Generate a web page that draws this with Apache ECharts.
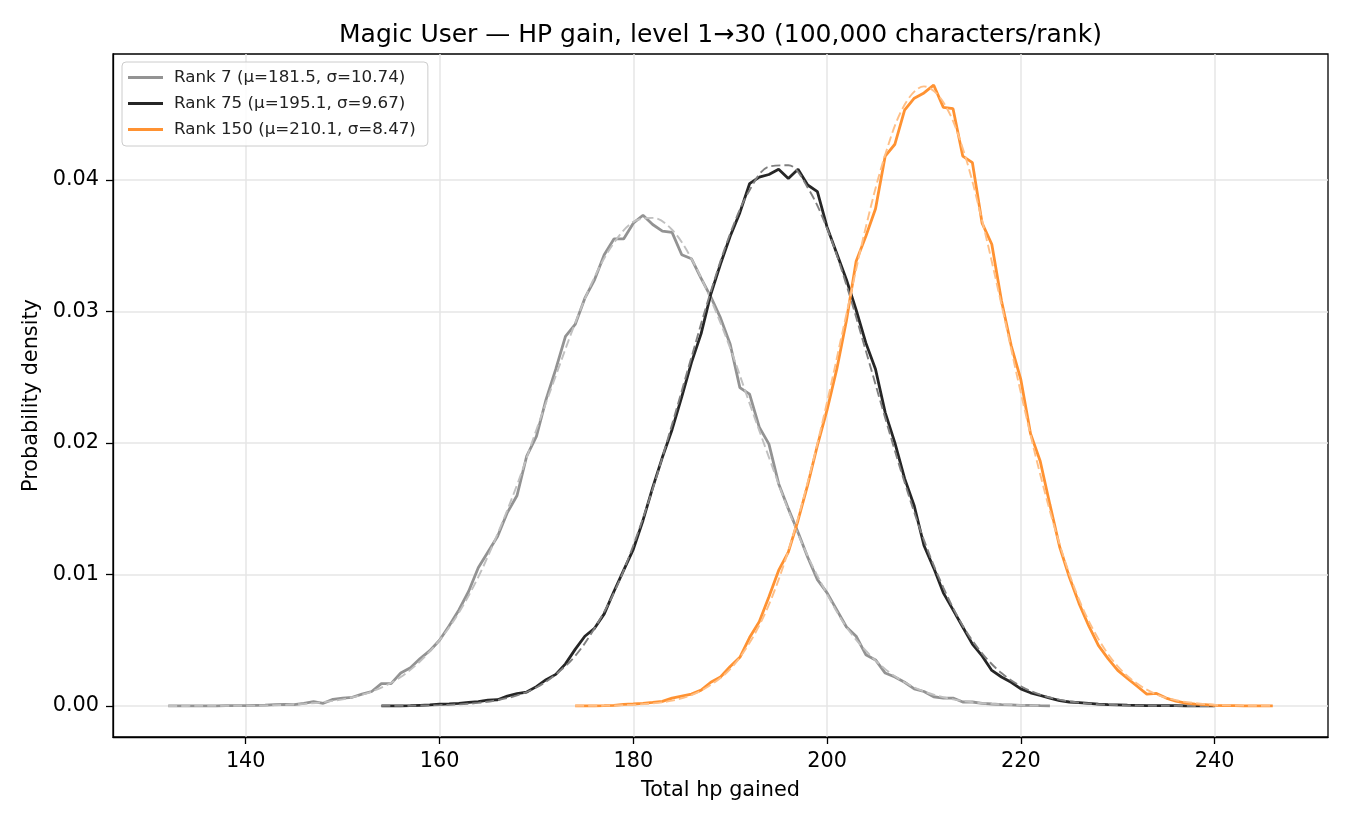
<!DOCTYPE html>
<html><head><meta charset="utf-8">
<script src="https://cdn.jsdelivr.net/npm/echarts@6/dist/echarts.min.js"></script>
<style>html,body{margin:0;padding:0;background:#fff}#chart{width:1350px;height:825px}</style>
</head><body><div id="chart"></div>
<script>
// ---- data ----
const seriesNames = ['Rank 7 (μ=181.5, σ=10.74)', 'Rank 75 (μ=195.1, σ=9.67)', 'Rank 150 (μ=210.1, σ=8.47)'];

// empirical densities, one value per integer hp total
const rank7Start = 132;
const rank7Values = [0, 0, 0, 0.00001, 0.00001, 0.00001, 0.00002, 0.00002, 0.00003, 0.00005,
  0.00006, 0.0001, 0.00012, 0.0001, 0.0002, 0.00033, 0.0002, 0.0005, 0.0006, 0.00066,
  0.0009, 0.0011, 0.0017, 0.0017, 0.0025, 0.0029, 0.0036, 0.0042, 0.005, 0.0061,
  0.0073, 0.0087, 0.0105, 0.0117, 0.0129, 0.0147, 0.016, 0.019, 0.0205, 0.0233,
  0.0256, 0.0281, 0.029, 0.031, 0.0324, 0.0343, 0.0355, 0.0355, 0.0367, 0.0373,
  0.0366, 0.0361, 0.036, 0.0343, 0.034, 0.0325, 0.0311, 0.0295, 0.0275, 0.0242,
  0.0237, 0.0212, 0.0199, 0.0169, 0.015, 0.0132, 0.0113, 0.0096, 0.0086, 0.0073,
  0.006, 0.0053, 0.0039, 0.0035, 0.0025, 0.0022, 0.0018, 0.0013, 0.0011, 0.0007,
  0.0006, 0.0006, 0.0003, 0.0003, 0.0002, 0.00015, 0.0001, 0.00008, 0.00005, 0.00004,
  0.00002, 0.00001];

const rank75Start = 154;
const rank75Values = [0, 0.00001, 0.00001, 0.00002, 0.00005, 0.00008, 0.00013, 0.00016, 0.0002, 0.00027,
  0.00033, 0.00045, 0.00047, 0.00075, 0.00093, 0.00106, 0.00147, 0.002, 0.0024, 0.0032,
  0.0043, 0.0053, 0.0059, 0.007, 0.0087, 0.0103, 0.0119, 0.0141, 0.0166, 0.0189,
  0.021, 0.0235, 0.0261, 0.0283, 0.0313, 0.0336, 0.0357, 0.0375, 0.0397, 0.0402,
  0.0404, 0.0408, 0.0401, 0.0408, 0.0396, 0.0391, 0.0364, 0.0344, 0.0324, 0.0301,
  0.0276, 0.0256, 0.0223, 0.02, 0.0173, 0.0152, 0.0122, 0.0105, 0.0086, 0.0073,
  0.006, 0.0047, 0.0038, 0.0027, 0.0022, 0.0018, 0.0013, 0.001, 0.0008, 0.0006,
  0.0004, 0.0003, 0.00025, 0.0002, 0.00014, 0.0001, 0.00008, 0.00006, 0.00005, 0.00003,
  0.00003, 0.00002, 0.00002, 0.00001, 0.00001, 0, 0];

const rank150Start = 174;
const rank150Values = [0, 0.00001, 0.00001, 0.00002, 0.00004, 0.00012, 0.00015, 0.0002, 0.00027, 0.00035,
  0.0006, 0.00075, 0.0009, 0.0012, 0.0018, 0.0022, 0.003, 0.0037, 0.0052, 0.0064,
  0.0083, 0.0103, 0.0117, 0.0141, 0.0168, 0.0198, 0.0225, 0.0256, 0.0293, 0.0338,
  0.0357, 0.0378, 0.0418, 0.0427, 0.0453, 0.0462, 0.0466, 0.0472, 0.0455, 0.0454,
  0.0418, 0.0413, 0.0367, 0.0351, 0.0308, 0.0274, 0.0248, 0.0207, 0.0186, 0.0153,
  0.0121, 0.0098, 0.0078, 0.0061, 0.0046, 0.0036, 0.0027, 0.0021, 0.0015, 0.0009,
  0.00095, 0.0006, 0.00037, 0.00022, 0.00014, 0.0001, 0.00005, 0.00003, 0.00002, 0.00001,
  0.00001, 0, 0];

// fitted normal curves (dashed), read every 2 hp
const fitStep = 2;
const rank7Fit = [0, 0.000002, 0.000005, 0.00001, 0.00002, 0.00004, 0.00008, 0.00016, 0.00029, 0.0005,
  0.00085, 0.0014, 0.0022, 0.0034, 0.005, 0.0071, 0.0098, 0.0131, 0.0168, 0.021,
  0.0251, 0.0291, 0.0326, 0.0352, 0.0368, 0.0371, 0.0362, 0.034, 0.0309, 0.0272,
  0.023, 0.0189, 0.0149, 0.0114, 0.0085, 0.006, 0.0042, 0.0028, 0.0018, 0.0011,
  0.00066, 0.00038, 0.00021, 0.00012, 0.00006, 0.00003];
const rank75Fit = [0.000005, 0.00001, 0.00003, 0.00006, 0.00012, 0.00023, 0.00045, 0.0008, 0.0014, 0.0024,
  0.0038, 0.0059, 0.0086, 0.0122, 0.0165, 0.0214, 0.0265, 0.0315, 0.0359, 0.0392,
  0.041, 0.0411, 0.0394, 0.0363, 0.032, 0.027, 0.0219, 0.017, 0.0126, 0.009,
  0.0061, 0.004, 0.0025, 0.0015, 0.00086, 0.00048, 0.00025, 0.00013, 0.00006, 0.00003,
  0.00001, 0.000005, 0.000002, 0.000001];
const rank150Fit = [0.000005, 0.000014, 0.000036, 0.00009, 0.00019, 0.0004, 0.00082, 0.0016, 0.0028, 0.0048,
  0.0077, 0.0118, 0.017, 0.0231, 0.0298, 0.0364, 0.0419, 0.0457, 0.0471, 0.0459,
  0.0424, 0.0369, 0.0305, 0.0238, 0.0176, 0.0123, 0.0081, 0.0051, 0.003, 0.0017,
  0.00088, 0.00044, 0.00021, 0.00009, 0.00004, 0.000016, 0.000006];

// ---- build chart ----
function pairs(start, step, vals) { return vals.map((v, i) => [start + i * step, v]); }

const FONT = 'DejaVu Sans';
const solidColors = ['#939393', '#262626', '#ff9232'];
const dashColors = ['#c0c0c0', '#808080', '#ffbf86'];
const solids = [[rank7Start, rank7Values], [rank75Start, rank75Values], [rank150Start, rank150Values]];
const fits = [[rank7Start, rank7Fit], [rank75Start, rank75Fit], [rank150Start, rank150Fit]];

const series = [];
for (let k = 0; k < 3; k++) {
  series.push({
    name: seriesNames[k], type: 'line', symbol: 'none', showSymbol: false,
    data: pairs(solids[k][0], 1, solids[k][1]),
    lineStyle: { color: solidColors[k], width: 2.8 }, itemStyle: { color: solidColors[k] },
    z: 2 + 2 * k
  });
  series.push({
    name: seriesNames[k] + ' fit', type: 'line', symbol: 'none', showSymbol: false, smooth: 0.35,
    data: pairs(fits[k][0], fitStep, fits[k][1]),
    lineStyle: { color: dashColors[k], width: 1.9, type: [9, 4] }, itemStyle: { color: dashColors[k] },
    z: 3 + 2 * k, silent: true
  });
}

const chart = echarts.init(document.getElementById('chart'), null, { renderer: 'canvas' });
chart.setOption({
  animation: false,
  backgroundColor: '#fff',
  textStyle: { fontFamily: FONT },
  title: {
    text: 'Magic User — HP gain, level 1→30 (100,000 characters/rank)',
    left: 339, top: 23, padding: 0,
    textStyle: { fontFamily: FONT, fontSize: 25, fontWeight: 'normal', color: '#000' }
  },
  legend: {
    data: seriesNames, orient: 'vertical', left: 122, top: 62,
    icon: 'rect', padding: [7, 12, 8, 6], itemGap: 9, itemWidth: 35, itemHeight: 3,
    borderColor: '#cccccc', borderWidth: 1, borderRadius: 4, backgroundColor: 'rgba(255,255,255,0.85)',
    textStyle: { fontFamily: FONT, fontSize: 16.7, color: '#222', padding: [0, 0, 0, 6] }
  },
  grid: { left: 113, right: 22, top: 54, bottom: 88, show: true, borderColor: '#000', borderWidth: 1.3, backgroundColor: 'transparent' },
  xAxis: {
    type: 'value', min: 126.3, max: 251.7, splitNumber: 6,
    name: 'Total hp gained', nameLocation: 'middle', nameGap: 43,
    nameTextStyle: { fontFamily: FONT, fontSize: 20.8, color: '#000' },
    axisLine: { show: true, onZero: false, lineStyle: { color: '#000', width: 1.3 } },
    axisTick: { show: true, length: 7, lineStyle: { color: '#000', width: 1.3 } },
    axisLabel: { margin: 14, fontFamily: FONT, fontSize: 20.8, color: '#000', showMinLabel: false, showMaxLabel: false,
      formatter: v => String(Math.round(v)) },
    splitLine: { show: true, showMinLine: false, showMaxLine: false, lineStyle: { color: '#e6e6e6', width: 1.5 } }
  },
  yAxis: {
    type: 'value', min: -0.00236, max: 0.04956, splitNumber: 5,
    name: 'Probability density', nameLocation: 'middle', nameGap: 65, nameRotate: 90,
    nameTextStyle: { fontFamily: FONT, fontSize: 20.8, color: '#000' },
    axisLine: { show: true, onZero: false, lineStyle: { color: '#000', width: 1.3 } },
    axisTick: { show: true, length: 7, lineStyle: { color: '#000', width: 1.3 } },
    axisLabel: { margin: 14, fontFamily: FONT, fontSize: 20.8, color: '#000', showMinLabel: false, showMaxLabel: false,
      formatter: v => v.toFixed(2) },
    splitLine: { show: true, showMinLine: false, showMaxLine: false, lineStyle: { color: '#e6e6e6', width: 1.5 } }
  },
  series: series
});
</script>
</body></html>
